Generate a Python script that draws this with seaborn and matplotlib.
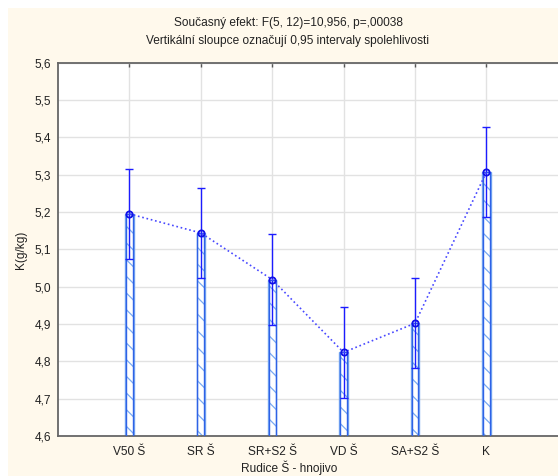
import matplotlib
matplotlib.use("Agg")
import matplotlib.pyplot as plt
import seaborn as sns
import pandas as pd
from matplotlib.patches import Rectangle

categories = ["V50 Š", "SR Š", "SR+S2 Š", "VD Š", "SA+S2 Š", "K"]
means = [5.195, 5.144, 5.019, 4.824, 4.902, 5.307]
ci_half = [0.121, 0.121, 0.121, 0.121, 0.121, 0.121]
yticks = [4.6, 4.7, 4.8, 4.9, 5.0, 5.1, 5.2, 5.3, 5.4, 5.5, 5.6]
ytick_labels = ["4,6", "4,7", "4,8", "4,9", "5,0", "5,1", "5,2", "5,3", "5,4", "5,5", "5,6"]
title1 = "Současný efekt: F(5, 12)=10,956, p=,00038"
title2 = "Vertikální sloupce označují 0,95 intervaly spolehlivosti"
xlabel = "Rudice Š - hnojivo"
ylabel = "K(g/kg)"

df = pd.DataFrame({"cat": categories, "mean": means, "ci": ci_half})

sns.set_style("white")
plt.rcParams["font.family"] = ["Liberation Sans", "DejaVu Sans"]
plt.rcParams["hatch.linewidth"] = 0.9

FS = 8.6
W, H = 558, 476
fig = plt.figure(figsize=(W / 100, H / 100), dpi=100)
fig.patch.set_facecolor("white")
fig.patches.append(Rectangle((8 / W, 0), 1, (H - 8) / H, transform=fig.transFigure,
                             facecolor="#fff9ec", edgecolor="none", zorder=-10))

ax_l, ax_r, ax_t, ax_b = 58, 58 + 8 * 71.4, 62.7, 436
ax = fig.add_axes([ax_l / W, 1 - ax_b / H, (ax_r - ax_l) / W, (ax_b - ax_t) / H])
ax.set_facecolor("white")

# hatched bars (hatch layer, light outer border)
sns.barplot(data=df, x="cat", y="mean", ax=ax, width=0.115, color="white",
            edgecolor="#79aaf2", linewidth=1.0, hatch="\\\\", errorbar=None, zorder=2)
# inner outline layer
sns.barplot(data=df, x="cat", y="mean", ax=ax, width=0.095, fill=False,
            edgecolor="#2f62e6", linewidth=1.0, errorbar=None, zorder=3)

xs = list(range(len(categories)))
ax.errorbar(xs, df["mean"], yerr=df["ci"], fmt="none", ecolor="#1c1cff",
            elinewidth=1.0, capsize=3, capthick=1.0, zorder=4)

sns.pointplot(data=df, x="cat", y="mean", ax=ax, color="#4848ff", linestyles=":",
              markers="o", errorbar=None, linewidth=1.2, markersize=4.5,
              markerfacecolor="none", markeredgecolor="#1010e8",
              markeredgewidth=1.3, zorder=5)

ax.set_xlim(-1, 7)
ax.set_ylim(4.6, 5.6)
ax.set_yticks(yticks)
ax.set_yticklabels(ytick_labels)
ax.set_xticks(xs)
ax.set_xticklabels(categories)
ax.set_xlabel("")
ax.set_ylabel("")
ax.grid(True, color="#e2e2e2", linewidth=1.0, zorder=0)
ax.set_axisbelow(True)
ax.tick_params(axis="x", direction="in", length=3, width=1, color="#555555",
               top=True, bottom=True, pad=7, labelsize=FS, labelcolor="#222222")
ax.tick_params(axis="y", direction="in", length=0, pad=5, labelsize=FS,
               labelcolor="#222222")
for s in ["left", "bottom", "top"]:
    ax.spines[s].set_visible(True)
    ax.spines[s].set_color("#666666")
    ax.spines[s].set_linewidth(1.3)
ax.spines["right"].set_visible(False)

fig.text(288 / W, 1 - 23 / H, title1, ha="center", va="center", fontsize=FS, color="#222222")
fig.text(288 / W, 1 - 41 / H, title2, ha="center", va="center", fontsize=FS, color="#222222")
fig.text(289 / W, 1 - 468 / H, xlabel, ha="center", va="center", fontsize=FS, color="#222222")
fig.text(21 / W, 1 - 250 / H, ylabel, ha="center", va="center", rotation=90,
         fontsize=FS, color="#222222")

fig.savefig("out.png", dpi=100, facecolor=fig.get_facecolor())
